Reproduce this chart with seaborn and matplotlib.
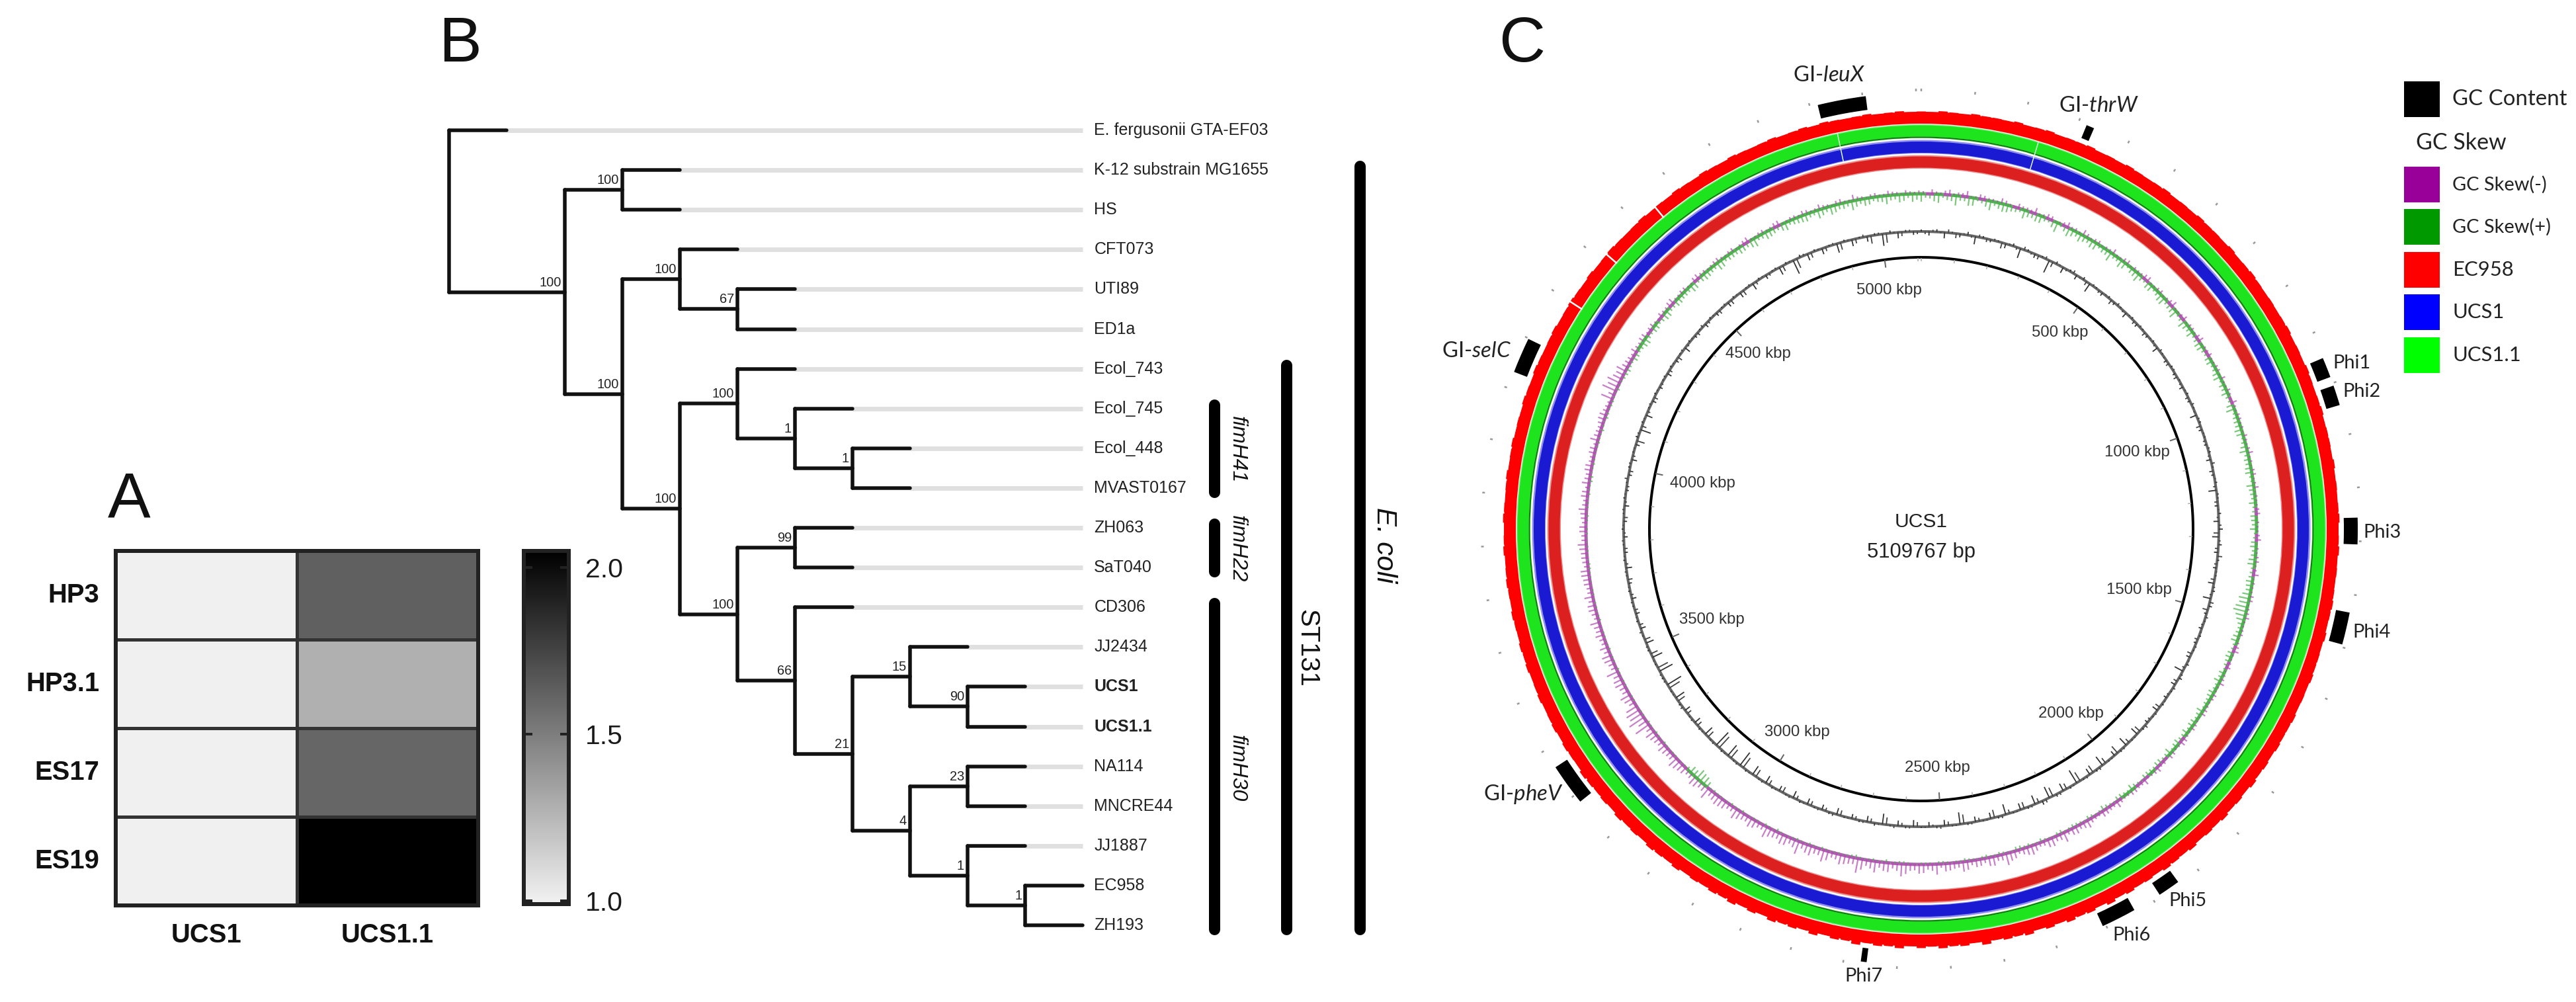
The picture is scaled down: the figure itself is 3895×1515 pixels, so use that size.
import numpy as np
import pandas as pd
import seaborn as sns
import matplotlib.pyplot as plt
from matplotlib.colors import LinearSegmentedColormap
from matplotlib.patches import Rectangle

W, H = 3895, 1515

# panel A
strains = ['UCS1', 'UCS1.1']
samples = ['HP3', 'HP3.1', 'ES17', 'ES19']
ucs1_vals = [1.0, 1.0, 1.0, 1.0]
ucs11_vals = [1.63, 1.28, 1.60, 2.05]

# panel B
tree = (0, None, ['E. fergusonii GTA-EF03',
    (2, 100, [(3, 100, ['K-12 substrain MG1655', 'HS']),
        (3, 100, [(4, 100, ['CFT073', (5, 67, ['UTI89', 'ED1a'])]),
            (4, 100, [(5, 100, ['Ecol_743', (6, 1, ['Ecol_745', (7, 1, ['Ecol_448', 'MVAST0167'])])]),
                (5, 100, [(6, 99, ['ZH063', 'SaT040']),
                    (6, 66, ['CD306', (7, 21, [(8, 15, ['JJ2434', (9, 90, ['UCS1', 'UCS1.1'])]),
                        (8, 4, [(9, 23, ['NA114', 'MNCRE44']),
                            (9, 1, ['JJ1887', (10, 1, ['EC958', 'ZH193'])])])])])])])])])])
bold_tips = ['UCS1', 'UCS1.1']
group_names = ['fimH41', 'fimH22', 'fimH30', 'ST131', 'E. coli']
group_first = [7, 10, 12, 6, 1]
group_last = [9, 11, 20, 20, 20]

# panel C
genome_kbp = 5109.767
kbp_ticks = [500, 1000, 1500, 2000, 2500, 3000, 3500, 4000, 4500, 5000]
marker_names = ['GI-leuX', 'GI-thrW', 'GI-selC', 'Phi1', 'Phi2', 'Phi3', 'Phi4', 'Phi5', 'Phi6', 'Phi7', 'GI-pheV']
marker_start = [4915, 316, 4132, 950, 1005, 1256, 1434, 2043, 2140, 2657, 3284]
marker_end = [5006, 331, 4199, 988, 1043, 1306, 1495, 2085, 2206, 2668, 3363]
legend_labels = ['GC Content', 'GC Skew(-)', 'GC Skew(+)', 'EC958', 'UCS1', 'UCS1.1']
legend_colors = ['#000000', '#990099', '#009900', '#ff0000', '#0000ff', '#00ff00']

# GC content deviation from the track centre, one value per 1.5 degrees
gc_content = [
    3,-6,4,-9,2,-5,5,-12,3,-4,2,-7,4,-15,3,-6,2,-20,4,-9,
    3,-7,4,-14,2,-5,3,-4,2,-8,3,-5,2,-4,3,-9,2,-5,3,-4,
    2,-6,3,-4,2,-10,3,-5,2,-4,3,-7,2,-4,3,-12,2,-5,4,-8,
    6,-10,5,-6,3,-5,2,-9,4,-12,5,-4,2,-5,3,-4,2,-6,4,-14,
    5,-7,2,-5,3,-9,2,-5,3,-12,2,-14,3,-8,2,-16,3,-10,2,-22,
    3,-12,4,-18,6,-14,3,-10,2,-16,3,-9,2,-8,3,-18,2,-9,3,-7,
    2,-10,3,-8,2,-16,4,-9,3,-7,2,-10,3,-8,2,-9,3,-11,2,-8,
    3,-12,2,-15,3,-24,2,-20,3,-26,2,-14,3,-10,2,-9,3,-15,2,-24,
    3,-22,2,-16,3,-12,2,-8,3,-6,2,-7,3,-5,2,-9,3,-5,2,-6,
    3,-5,2,-7,3,-4,2,-5,3,-8,2,-6,4,-16,3,-10,2,-6,3,-5,
    2,-7,3,-5,2,-9,3,-4,2,-6,3,-5,2,-7,3,-8,2,-10,3,-6,
    2,-12,3,-22,4,-10,3,-9,2,-14,3,-10,2,-8,3,-18,4,-9,3,-5]

# the same track read half a bin later
gc_content_b = [
    -4,3,-2,5,-7,2,-3,4,-5,3,-9,2,-4,5,-3,-6,4,-8,2,-3,
    5,-2,-6,3,-4,2,-7,4,-3,2,-5,3,-6,2,-3,4,-2,-5,3,-6,
    -3,2,-5,4,-2,3,-7,2,-4,3,-3,5,-6,2,-4,3,-5,2,-3,4,
    -8,3,-5,7,-4,2,-6,3,-3,6,-8,4,-3,2,-5,3,-7,2,-4,3,
    -6,4,-3,2,-8,3,-4,5,-10,2,-7,3,-13,2,-9,4,-12,3,-15,2,
    -9,4,-14,5,-7,3,-10,2,-6,4,-12,2,-5,3,-14,2,-6,4,-3,2,
    -7,3,-5,4,-11,2,-6,3,-5,2,-8,4,-5,3,-7,2,-6,3,-9,2,
    -8,3,-12,2,-18,3,-16,2,-22,3,-11,2,-8,3,-7,4,-12,2,-18,3,
    3,-17,2,-11,3,-9,4,-6,2,-5,3,-4,2,-7,3,-4,2,-5,3,-3,
    2,-6,3,-3,2,-4,5,-6,3,-4,2,-12,3,-7,2,-4,3,-6,2,-3,
    3,-5,2,-7,3,-3,2,-5,4,-4,2,-6,3,-7,2,-8,3,-5,2,-4,
    3,-9,2,-15,3,-8,2,-6,3,-11,2,-7,4,-12,3,-14,2,-6,3,-4]

skew_plus = [
    12,7,13,8,15,7,12,6,14,9,11,7,13,8,11,5,15,8,10,12,
    7,11,8,14,6,10,8,13,5,10,7,12,8,13,6,9,11,7,10,5,
    9,6,11,8,10,5,13,7,8,10,6,12,8,9,5,11,7,10,6,8,
    10,5,9,7,11,6,10,8,16,18,15,8,7,10,5,9,6,8,10,5,
    8,6,10,5,8,9,6,7,10,5,8,6,7,4,9,5,7,4,8,3,
    6,4,6,3,5,3,6,3,4,6,3,5,3,4,3,5,3,3,4,3,
    3,2,4,3,5,2,3,3,4,2,3,3,2,4,3,3,2,5,3,2,
    3,2,3,4,2,3,3,13,16,11,3,2,3,3,2,4,3,2,3,2,
    3,2,3,3,2,3,4,2,3,2,3,3,2,3,2,3,4,2,3,2,
    3,3,2,3,4,3,5,3,3,2,4,3,3,5,3,4,2,3,5,7,
    4,7,6,10,5,8,7,10,6,9,7,11,5,10,7,12,6,8,10,7,
    13,7,10,6,12,8,10,7,13,7,11,9,14,7,10,8,13,7,10,12]

skew_plus_b = [
    6,11,5,9,7,13,4,10,6,12,8,5,9,11,6,10,4,13,7,9,
    11,5,8,6,12,4,9,7,10,5,11,6,9,4,12,7,5,10,6,8,
    5,9,4,7,6,10,5,8,11,4,9,6,7,10,4,8,6,5,9,7,
    4,8,6,10,5,7,9,12,14,20,12,6,9,5,8,7,4,6,5,9,
    6,4,7,8,5,6,9,4,6,8,5,7,3,6,4,7,3,6,4,5,
    3,5,4,6,2,4,3,5,6,2,4,3,5,2,4,3,2,4,2,3,
    2,3,4,2,3,4,2,5,3,3,2,4,3,2,4,2,3,2,4,3,
    2,4,3,2,3,4,9,14,10,5,2,3,2,4,3,2,4,3,2,3,
    2,3,2,4,3,2,3,3,2,4,2,3,3,2,3,4,2,3,2,3,
    2,4,3,2,3,5,3,4,2,3,3,5,2,4,4,3,5,3,6,5,
    8,5,9,6,8,5,10,6,9,7,6,10,8,9,6,11,8,7,9,11,
    6,11,8,10,6,9,11,6,10,13,8,7,10,11,6,9,8,12,6,9]

skew_minus = [
    4,7,3,8,5,9,3,6,4,8,3,7,5,9,4,6,3,8,5,9,
    3,6,4,8,3,7,5,4,8,3,6,4,9,3,7,5,3,8,4,6,
    3,5,7,3,4,8,3,5,4,6,3,8,4,5,3,7,4,3,6,4,
    3,7,4,5,3,8,4,3,6,4,7,3,5,4,8,3,6,4,8,3,
    5,4,7,3,6,4,8,3,7,5,8,4,9,5,7,4,10,6,9,5,
    12,7,10,15,8,12,6,14,9,11,18,8,13,10,7,15,9,12,16,8,
    14,10,19,8,13,17,9,22,11,15,8,18,10,13,20,9,15,11,17,8,
    14,10,16,8,13,11,18,9,14,7,12,16,9,13,10,15,24,26,22,9,
    16,10,13,18,9,14,12,8,9,14,8,11,13,7,10,12,8,9,13,7,
    10,8,12,6,9,11,7,10,6,9,12,7,8,10,6,18,22,20,12,9,
    7,9,5,8,6,4,7,5,9,4,6,3,8,5,4,7,3,6,4,8,
    3,6,4,8,3,5,7,3,8,4,6,3,9,4,5,3,7,4,6,3]

skew_minus_b = [
    2,4,6,3,5,2,7,4,3,6,2,5,4,3,7,2,5,4,3,6,
    5,2,4,3,6,2,4,7,3,5,2,6,3,4,2,5,6,2,4,3,
    5,2,3,6,2,4,5,3,2,4,5,3,2,6,4,2,3,5,2,3,
    5,2,3,6,4,2,3,6,2,5,3,4,2,6,3,4,2,5,3,6,
    3,6,2,5,3,7,4,6,2,4,6,3,5,7,4,6,5,8,4,7,
    9,11,6,9,13,7,10,12,6,13,9,14,7,11,13,8,11,6,10,13,
    9,15,11,14,9,12,16,10,13,9,14,10,15,9,12,14,10,13,8,12,
    9,13,8,12,14,9,10,13,8,11,14,9,11,8,12,9,14,20,18,13,
    9,14,10,8,13,8,7,12,10,6,11,8,7,10,12,6,9,11,7,10,
    6,9,7,10,5,8,10,6,9,5,8,6,10,7,5,9,16,14,15,8,
    5,6,8,4,7,3,5,8,4,6,3,7,5,3,6,4,5,2,6,3,
    5,3,7,2,5,3,6,4,5,2,7,3,5,2,6,3,5,2,4,5]

rim_teeth = [
    4,3,5,4,3,5,4,4,3,5,3,4,5,3,4,4,5,3,4,3,
    5,4,3,4,5,3,4,3,5,4,4,3,5,3,4,5,4,3,4,3,
    4,5,3,4,3,5,4,3,4,5,3,4,4,3,5,3,4,3,4,5,
    3,4,5,3,4,3,4,5,4,3,5,3,4,4,5,3,4,3,5,4,
    4,5,3,5,4,6,3,5,4,6,4,5,3,6,4,5,6,3,5,4,
    6,4,7,3,6,5,7,4,6,3,7,5,6,4,8,3,6,5,7,4,
    6,3,7,5,6,4,8,5,6,3,7,4,6,5,7,3,6,4,7,5,
    6,4,5,3,6,4,5,6,3,5,4,6,3,5,4,5,6,3,4,5,
    3,5,4,3,5,4,3,5,4,5,3,4,5,3,4,5,4,3,5,4,
    3,5,4,3,4,5,3,4,5,3,4,3,5,4,3,5,4,3,4,5,
    3,4,5,4,3,5,3,4,5,4,3,4,5,3,4,3,5,4,3,5,
    4,3,5,4,3,4,5,3,4,5,3,5,4,3,4,5,3,4,5,3]


def px_axes(left, top, right, bottom, **kw):
    return fig.add_axes([left / W, 1 - bottom / H, (right - left) / W, (bottom - top) / H], **kw)


def pt(px):
    return px * 0.72


sns.set_theme(style='white')
plt.rcParams['font.family'] = ['Liberation Sans', 'DejaVu Sans']
plt.rcParams['mathtext.fontset'] = 'custom'
plt.rcParams['mathtext.rm'] = 'Lato'
plt.rcParams['mathtext.it'] = 'Lato:italic'

fig = plt.figure(figsize=(W / 100, H / 100), dpi=100, facecolor='white')

# ---- A: heatmap
df = pd.DataFrame({strains[0]: ucs1_vals, strains[1]: ucs11_vals}, index=samples)
greys = LinearSegmentedColormap.from_list('greys', ['#f2f2f2', '#000000'])
ax_a = px_axes(175, 833, 723, 1369)
ax_cb = px_axes(792, 833, 860, 1367)
sns.heatmap(df, ax=ax_a, cbar_ax=ax_cb, cmap=greys, vmin=0.99, vmax=2.05, linewidths=2.5, linecolor='#333333',
            cbar_kws={'ticks': [1.0, 1.5, 2.0], 'format': '%.1f', 'drawedges': False})
for ax in [ax_a, ax_cb]:
    for s in ax.spines.values():
        s.set_visible(True)
        s.set_linewidth(pt(6))
        s.set_edgecolor('#222222')
ax_cb.collections[0].set_edgecolor('face')
ax_cb.set_axisbelow(False)
ax_cb.tick_params(axis='y', direction='in', left=True, right=True, length=pt(13), width=pt(4), color='#222222',
                  labelsize=pt(41), pad=pt(25), labelcolor='#1a1a1a')
ax_a.set_xlabel('')
ax_a.set_ylabel('')
ax_a.tick_params(axis='both', length=0)
ax_a.set_xticklabels(strains, fontsize=pt(40), fontweight='bold', color='#111111')
ax_a.set_yticklabels(samples, fontsize=pt(40), fontweight='bold', color='#111111', rotation=0)
ax_a.tick_params(axis='x', pad=pt(26))
ax_a.tick_params(axis='y', pad=pt(25))

# ---- B: cladogram, x in tree levels, y in tip order
x0, dx = 679.4, 87.08
y0, dy = 197.0, 60.1
bl, br, bt, bb = 640, 2130, 150, 1450
ax_b = px_axes(bl, bt, br, bb)
ax_b.set_xlim((bl - x0) / dx, (br - x0) / dx)
ax_b.set_ylim((bb - y0) / dy, (bt - y0) / dy)
ax_b.axis('off')
tip_count = [0]
BLACK = dict(color='#111111', lw=pt(5.5), solid_capstyle='round', zorder=3)


def draw_node(node):
    depth, support, kids = node
    ys = []
    for kid in kids:
        if isinstance(kid, str):
            i = tip_count[0]
            tip_count[0] += 1
            ax_b.plot([depth + 1, 11], [i, i], color='#e0e0e0', lw=pt(7), solid_capstyle='butt', zorder=1)
            ax_b.plot([depth, depth + 1], [i, i], **BLACK)
            ax_b.annotate(kid, (11, i), xytext=(pt(17), 0), textcoords='offset points', va='center', ha='left',
                          fontsize=pt(25), color='#222222', fontweight='bold' if kid in bold_tips else 'normal')
            ys.append(i)
        else:
            kid_y = draw_node(kid)
            ax_b.plot([depth, kid[0]], [kid_y, kid_y], **BLACK)
            ax_b.annotate(str(kid[1]), (kid[0], kid_y), xytext=(pt(-5), pt(5)), textcoords='offset points',
                          ha='right', va='bottom', fontsize=pt(20), color='#222222')
            ys.append(kid_y)
    ax_b.plot([depth, depth], [min(ys), max(ys)], **BLACK)
    return (min(ys) + max(ys)) / 2


draw_node(tree)

group_x = [13.28, 13.28, 13.28, 14.53, 15.81]
for gx, first, last in zip(group_x, group_first, group_last):
    ax_b.plot([gx, gx], [first - 0.1, last + 0.1], color='black', lw=pt(17), solid_capstyle='round')

# ---- C: circular genome map, r in figure pixels
cx, cy, rmax = 2905, 800, 700
ax_c = px_axes(cx - rmax, cy - rmax, cx + rmax, cy + rmax, projection='polar')
ax_c.set_theta_zero_location('N')
ax_c.set_theta_direction(-1)
ax_c.set_ylim(0, rmax)
ax_c.axis('off')


def th(kbp):
    return np.asarray(kbp, dtype=float) / genome_kbp * 2 * np.pi


def ring(r0, r1, color):
    ax_c.bar(0, r1 - r0, width=2 * np.pi, bottom=r0, color=color, linewidth=0)


ring(545, 565.5, '#ec8f8f')
ring(546.5, 563.5, '#dc1f1f')
ring(568, 588.5, '#8f8fee')
ring(569, 586, '#1a1ad2')
ring(591, 612, '#88ee88')
ring(593.5, 610.5, '#1de41d')
ring(591.5, 593.5, '#0e7a0e')
ring(613, 631, '#ff0000')

track_theta = np.linspace(0, 2 * np.pi, len(rim_teeth), endpoint=False)
half_bin = np.radians(0.75)
ax_c.bar(track_theta, np.array(rim_teeth), width=np.radians(1.25), bottom=627.5, color='#ff0000', linewidth=0)

# white slits in the rings
ax_c.vlines(th([4548, 4416, 4300]), 611, 640, color='white', lw=pt(2.5))
ax_c.vlines(th([4940, 239]), 568, 612, color='#dfffdf', lw=pt(1.5))

# skew track: spikes plus a band coloured by whichever side is larger
skew_r, gc_r = 507, 450
plus, minus = np.array(skew_plus), np.array(skew_minus)
band_cols = np.where(plus > minus, '#2ea82e', '#a83aa8')
ax_c.bar(track_theta, 5, width=np.radians(1.5), bottom=skew_r - 2.5, color=band_cols, linewidth=0, alpha=0.85)
ax_c.vlines(track_theta, skew_r - plus, skew_r, color='#45b045', lw=pt(2.2), alpha=0.7)
ax_c.vlines(track_theta + half_bin, skew_r - np.array(skew_plus_b), skew_r, color='#45b045', lw=pt(2.2), alpha=0.7)
ax_c.vlines(track_theta + np.radians(0.35), skew_r, skew_r + minus, color='#b04ab0', lw=pt(2.2), alpha=0.7)
ax_c.vlines(track_theta + np.radians(1.1), skew_r, skew_r + np.array(skew_minus_b), color='#b04ab0', lw=pt(2.2), alpha=0.7)

# GC content track
ax_c.bar(0, 4, width=2 * np.pi, bottom=gc_r - 2, color='#666666', linewidth=0)
ax_c.vlines(track_theta, gc_r, gc_r + np.array(gc_content), color='#333333', lw=pt(1.8))
ax_c.vlines(track_theta + half_bin, gc_r, gc_r + np.array(gc_content_b), color='#444444', lw=pt(1.8))

# backbone circle and ticks
theta_full = np.linspace(0, 2 * np.pi, 720)
ax_c.plot(theta_full, np.full(720, 411), color='black', lw=pt(4))
minor = th(np.arange(0, genome_kbp, 100))
ax_c.vlines(minor, 662, 666, color='#999999', lw=pt(2.5))
ax_c.vlines(minor, 405, 410, color='#aaaaaa', lw=pt(1.5))
ax_c.vlines(th(kbp_ticks), 399, 410, color='#666666', lw=pt(2))

# genomic island / phage markers
for s, e in zip(marker_start, marker_end):
    ax_c.bar(th((s + e) / 2), 21, width=th(e - s), bottom=639, color='black', linewidth=0)

# ---- overlay with page text
ov = fig.add_axes([0, 0, 1, 1], facecolor='none', zorder=10)
ov.set_xlim(0, W)
ov.set_ylim(H, 0)
ov.axis('off')

for letter, x, y in [('A', 163, 782), ('B', 664, 93), ('C', 2266, 93)]:
    ov.text(x, y, letter, fontsize=pt(97), va='baseline', ha='left', color='#111111')

group_lab_x = [1871, 1871, 1871, 1976, 2093]
group_lab_y = [680, 830, 1162, 980, 824]
group_lab_fs = [32, 32, 32, 40, 42]
group_style = ['italic', 'italic', 'italic', 'normal', 'italic']
for name, x, y, fs, st in zip(group_names, group_lab_x, group_lab_y, group_lab_fs, group_style):
    ov.text(x, y, name, rotation=270, ha='center', va='center', fontsize=pt(fs), style=st, color='#111111')

kbp_label_r = [363, 346, 342, 359, 362, 360, 345, 338, 362, 364]
for k, r in zip(kbp_ticks, kbp_label_r):
    a = th(k)
    ov.text(cx + r * np.sin(a), cy - r * np.cos(a), f'{k} kbp', ha='center', va='center', fontsize=pt(24), color='#333333')
ov.text(cx, 789, 'UCS1', ha='center', va='center', fontsize=pt(30), color='#222222')
ov.text(cx, 835, '5109767 bp', ha='center', va='center', fontsize=pt(31), color='#222222')

marker_lab_x = [2766, 3173, 2232, 3556, 3571, 3602, 3586, 3308, 3223, 2818, 2303]
marker_lab_y = [114, 160, 531, 549, 592, 805, 956, 1362, 1414, 1476, 1201]
for name, x, y in zip(marker_names, marker_lab_x, marker_lab_y):
    fs = 29
    if name.startswith('GI-'):
        name = 'GI-$\\mathit{' + name[3:] + '}$'
        fs = 33
    ov.text(x, y, name, ha='center', va='center', fontsize=pt(fs), family='Lato', color='#222222')

legend_top = [123, 252, 316, 381, 445, 510]
legend_fs = [33, 29, 29, 31, 31, 31]
for lab, col, top, fs in zip(legend_labels, legend_colors, legend_top, legend_fs):
    ov.add_patch(Rectangle((3635, top), 54, 54, facecolor=col, edgecolor='none'))
    ov.text(3708, top + 27, lab, ha='left', va='center', fontsize=pt(fs), family='Lato', color='#222222')
ov.text(3653, 216, 'GC Skew', ha='left', va='center', fontsize=pt(34), family='Lato', color='#222222')

fig.savefig('out.png', dpi=100)
